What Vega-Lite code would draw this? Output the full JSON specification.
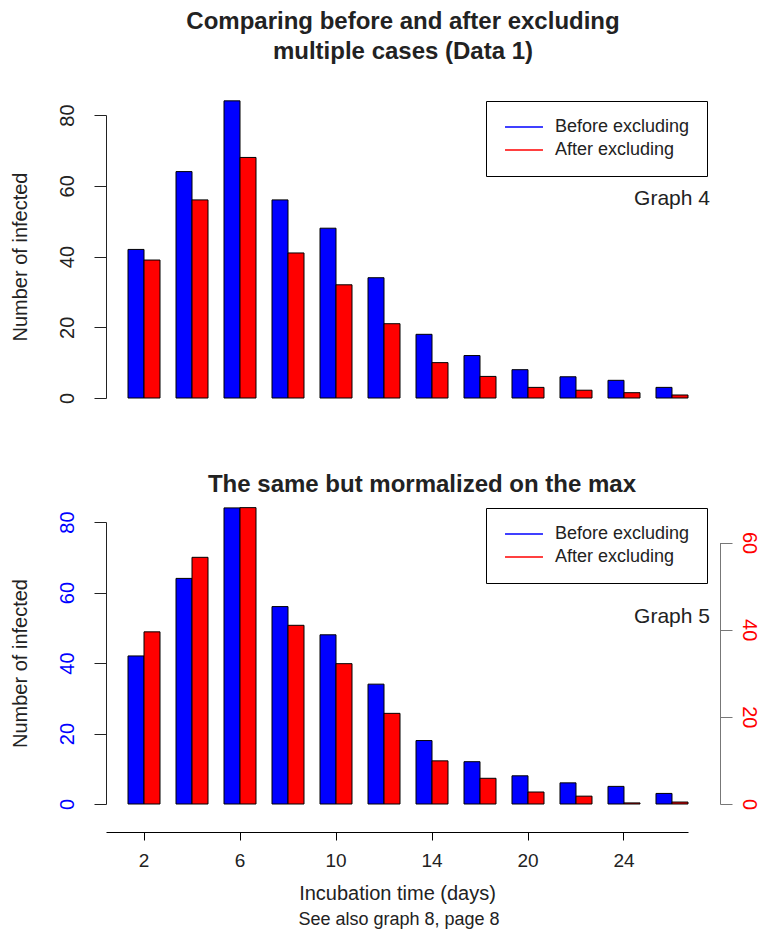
{
  "$schema": "https://vega.github.io/schema/vega-lite/v6.json",
  "background": "white",
  "padding": {"left": 10, "top": 10, "right": 5, "bottom": 5},
  "title": {"text": "See also graph 8, page 8", "orient": "bottom", "anchor": "middle", "frame": "bounds", "fontSize": 18, "fontWeight": "normal", "color": "#222", "offset": 8, "dx": 15},
  "datasets": {
    "top": [
      {"day": 2, "series": "Before excluding", "value": 42}, {"day": 2, "series": "After excluding", "value": 39},
      {"day": 4, "series": "Before excluding", "value": 64}, {"day": 4, "series": "After excluding", "value": 56},
      {"day": 6, "series": "Before excluding", "value": 84}, {"day": 6, "series": "After excluding", "value": 68},
      {"day": 8, "series": "Before excluding", "value": 56}, {"day": 8, "series": "After excluding", "value": 41},
      {"day": 10, "series": "Before excluding", "value": 48}, {"day": 10, "series": "After excluding", "value": 32},
      {"day": 12, "series": "Before excluding", "value": 34}, {"day": 12, "series": "After excluding", "value": 21},
      {"day": 14, "series": "Before excluding", "value": 18}, {"day": 14, "series": "After excluding", "value": 10},
      {"day": 16, "series": "Before excluding", "value": 12}, {"day": 16, "series": "After excluding", "value": 6.1},
      {"day": 20, "series": "Before excluding", "value": 8}, {"day": 20, "series": "After excluding", "value": 3},
      {"day": 22, "series": "Before excluding", "value": 6}, {"day": 22, "series": "After excluding", "value": 2.2},
      {"day": 24, "series": "Before excluding", "value": 5}, {"day": 24, "series": "After excluding", "value": 1.5},
      {"day": 26, "series": "Before excluding", "value": 3}, {"day": 26, "series": "After excluding", "value": 0.85}
    ],
    "bottom": [
      {"day": 2, "series": "Before excluding", "value": 42}, {"day": 2, "series": "After excluding", "value": 39.5},
      {"day": 4, "series": "Before excluding", "value": 64}, {"day": 4, "series": "After excluding", "value": 56.6},
      {"day": 6, "series": "Before excluding", "value": 84}, {"day": 6, "series": "After excluding", "value": 68},
      {"day": 8, "series": "Before excluding", "value": 56}, {"day": 8, "series": "After excluding", "value": 41},
      {"day": 10, "series": "Before excluding", "value": 48}, {"day": 10, "series": "After excluding", "value": 32.2},
      {"day": 12, "series": "Before excluding", "value": 34}, {"day": 12, "series": "After excluding", "value": 20.8},
      {"day": 14, "series": "Before excluding", "value": 18}, {"day": 14, "series": "After excluding", "value": 9.9},
      {"day": 16, "series": "Before excluding", "value": 12}, {"day": 16, "series": "After excluding", "value": 5.9},
      {"day": 20, "series": "Before excluding", "value": 8}, {"day": 20, "series": "After excluding", "value": 2.75},
      {"day": 22, "series": "Before excluding", "value": 6}, {"day": 22, "series": "After excluding", "value": 1.8},
      {"day": 24, "series": "Before excluding", "value": 5}, {"day": 24, "series": "After excluding", "value": 0.25},
      {"day": 26, "series": "Before excluding", "value": 3}, {"day": 26, "series": "After excluding", "value": 0.45}
    ]
  },
  "spacing": 69,
  "resolve": {"scale": {"stroke": "independent"}, "legend": {"stroke": "independent"}},
  "vconcat": [
    {
      "width": 582,
      "height": 283,
      "title": {"text": ["Comparing before and after excluding", "multiple cases (Data 1)"], "fontSize": 24, "fontWeight": "bold", "lineHeight": 30, "frame": "group", "anchor": "middle", "dx": 6, "offset": 36},
      "data": {"name": "top"},
      "layer": [
        {
          "mark": {"type": "bar", "stroke": "#000", "strokeWidth": 1},
          "encoding": {
            "x": {"field": "day", "type": "ordinal", "scale": {"paddingInner": 0.3333, "paddingOuter": 0.2292, "align": 1}, "axis": null},
            "xOffset": {"field": "series", "type": "nominal", "scale": {"domain": ["Before excluding", "After excluding"], "paddingInner": 0, "paddingOuter": 0}},
            "y": {"field": "value", "type": "quantitative", "scale": {"domain": [0, 80], "nice": false}, "axis": {"title": "Number of infected", "values": [0, 20, 40, 60, 80], "labelAngle": -90, "tickSize": 12, "labelPadding": 17, "titlePadding": 27}},
            "fill": {"field": "series", "type": "nominal", "scale": {"domain": ["Before excluding", "After excluding"], "range": ["#0000FF", "#FF0000"]}, "legend": null}
          }
        },
        {
          "data": {"values": [{"note": "Graph 4"}]},
          "mark": {"type": "text", "align": "right", "baseline": "middle", "fontSize": 21, "dx": 38, "color": "#222"},
          "encoding": {
            "text": {"field": "note"},
            "x": {"datum": 26, "type": "ordinal", "axis": null},
            "y": {"datum": 56.2, "type": "quantitative", "axis": {"title": "Number of infected", "values": [0, 20, 40, 60, 80], "labelAngle": -90, "tickSize": 12, "labelPadding": 17, "titlePadding": 27}}
          }
        },
        {
          "transform": [{"filter": "false"}],
          "mark": {"type": "point", "shape": "M-3,0H3", "filled": false, "opacity": 1},
          "encoding": {
            "stroke": {"field": "series", "type": "nominal", "scale": {"domain": ["Before excluding", "After excluding"], "range": ["#0000FF", "#FF0000"]},
              "legend": {"title": null, "orient": "none", "legendX": 380, "legendY": -14, "symbolType": "M-3,0H3", "symbolSize": 160, "symbolStrokeWidth": 1.5, "symbolOffset": 12, "labelOffset": 22, "labelFontSize": 18, "labelColor": "#222", "strokeColor": "#000", "fillColor": "#fff", "padding": 17, "rowPadding": 5, "cornerRadius": 0}}
          }
        }
      ]
    },
    {
      "width": 582,
      "height": 282,
      "title": {"text": "The same but mormalized on the max", "fontSize": 24, "fontWeight": "bold", "frame": "group", "anchor": "middle", "dx": 25, "offset": 10},
      "data": {"name": "bottom"},
      "layer": [
        {
          "layer": [
            {
              "transform": [{"filter": "datum.series === 'Before excluding'"}],
              "mark": {"type": "bar", "stroke": "#000", "strokeWidth": 1, "fill": "#0000FF"},
              "encoding": {
                "x": {"field": "day", "type": "ordinal", "scale": {"paddingInner": 0.3333, "paddingOuter": 0.2292, "align": 1}, "axis": {"title": "Incubation time (days)", "values": [2, 6, 10, 14, 20, 24], "labelAngle": 0, "offset": 28, "tickSize": 8, "labelFontSize": 19, "labelPadding": 11, "titlePadding": 13, "domainColor": "#000", "tickColor": "#000"}},
                "xOffset": {"field": "series", "type": "nominal", "scale": {"domain": ["Before excluding", "After excluding"], "paddingInner": 0, "paddingOuter": 0}},
                "y": {"field": "value", "type": "quantitative", "scale": {"domain": [0, 80], "nice": false}, "axis": {"title": "Number of infected", "values": [0, 20, 40, 60, 80], "labelAngle": -90, "tickSize": 12, "labelPadding": 17, "titlePadding": 27, "labelColor": "#0000FF"}}
              }
            },
            {
              "data": {"values": [{"note": "Graph 5"}]},
              "mark": {"type": "text", "align": "right", "baseline": "middle", "fontSize": 21, "dx": 38, "color": "#222"},
              "encoding": {
                "text": {"field": "note"},
                "x": {"datum": 26, "type": "ordinal", "axis": {"title": "Incubation time (days)", "values": [2, 6, 10, 14, 20, 24], "labelAngle": 0, "offset": 28, "tickSize": 8, "labelFontSize": 19, "labelPadding": 11, "titlePadding": 13, "domainColor": "#000", "tickColor": "#000"}},
                "y": {"datum": 53, "type": "quantitative", "axis": {"title": "Number of infected", "values": [0, 20, 40, 60, 80], "labelAngle": -90, "tickSize": 12, "labelPadding": 17, "titlePadding": 27, "labelColor": "#0000FF"}}
              }
            },
            {
              "transform": [{"filter": "false"}],
              "mark": {"type": "point", "shape": "M-3,0H3", "filled": false, "opacity": 1},
              "encoding": {
                "stroke": {"field": "series", "type": "nominal", "scale": {"domain": ["Before excluding", "After excluding"], "range": ["#0000FF", "#FF0000"]},
                  "legend": {"title": null, "orient": "none", "legendX": 380, "legendY": -14, "symbolType": "M-3,0H3", "symbolSize": 160, "symbolStrokeWidth": 1.5, "symbolOffset": 12, "labelOffset": 22, "labelFontSize": 18, "labelColor": "#222", "strokeColor": "#000", "fillColor": "#fff", "padding": 17, "rowPadding": 5, "cornerRadius": 0}}
              }
            }
          ]
        },
        {
          "transform": [{"filter": "datum.series === 'After excluding'"}],
          "mark": {"type": "bar", "stroke": "#000", "strokeWidth": 1, "fill": "#FF0000"},
          "encoding": {
            "x": {"field": "day", "type": "ordinal", "scale": {"paddingInner": 0.3333, "paddingOuter": 0.2292, "align": 1}, "axis": {"title": "Incubation time (days)", "values": [2, 6, 10, 14, 20, 24], "labelAngle": 0, "offset": 28, "tickSize": 8, "labelFontSize": 19, "labelPadding": 11, "titlePadding": 13, "domainColor": "#000", "tickColor": "#000"}},
            "xOffset": {"field": "series", "type": "nominal", "scale": {"domain": ["Before excluding", "After excluding"], "paddingInner": 0, "paddingOuter": 0}},
            "y": {"field": "value", "type": "quantitative", "scale": {"domain": [0, 60], "nice": false, "range": [282, 20.5]}, "axis": {"orient": "right", "title": null, "values": [0, 20, 40, 60], "labelAngle": 90, "tickSize": 12, "offset": 32, "labelPadding": 6, "labelColor": "#FF0000", "domainColor": "#777", "tickColor": "#777"}}
          }
        }
      ],
      "resolve": {"scale": {"y": "independent"}, "axis": {"y": "independent"}}
    }
  ],
  "config": {
    "font": "Liberation Sans",
    "view": {"stroke": null},
    "axis": {"grid": false, "labelFontSize": 20, "titleFontSize": 20, "titleFontWeight": "normal", "labelColor": "#222", "titleColor": "#222", "domainColor": "#222", "tickColor": "#222", "labelFont": "Liberation Sans", "titleFont": "Liberation Sans"},
    "title": {"font": "Liberation Sans", "color": "#222"},
    "legend": {"labelFont": "Liberation Sans"},
    "text": {"font": "Liberation Sans"}
  }
}
